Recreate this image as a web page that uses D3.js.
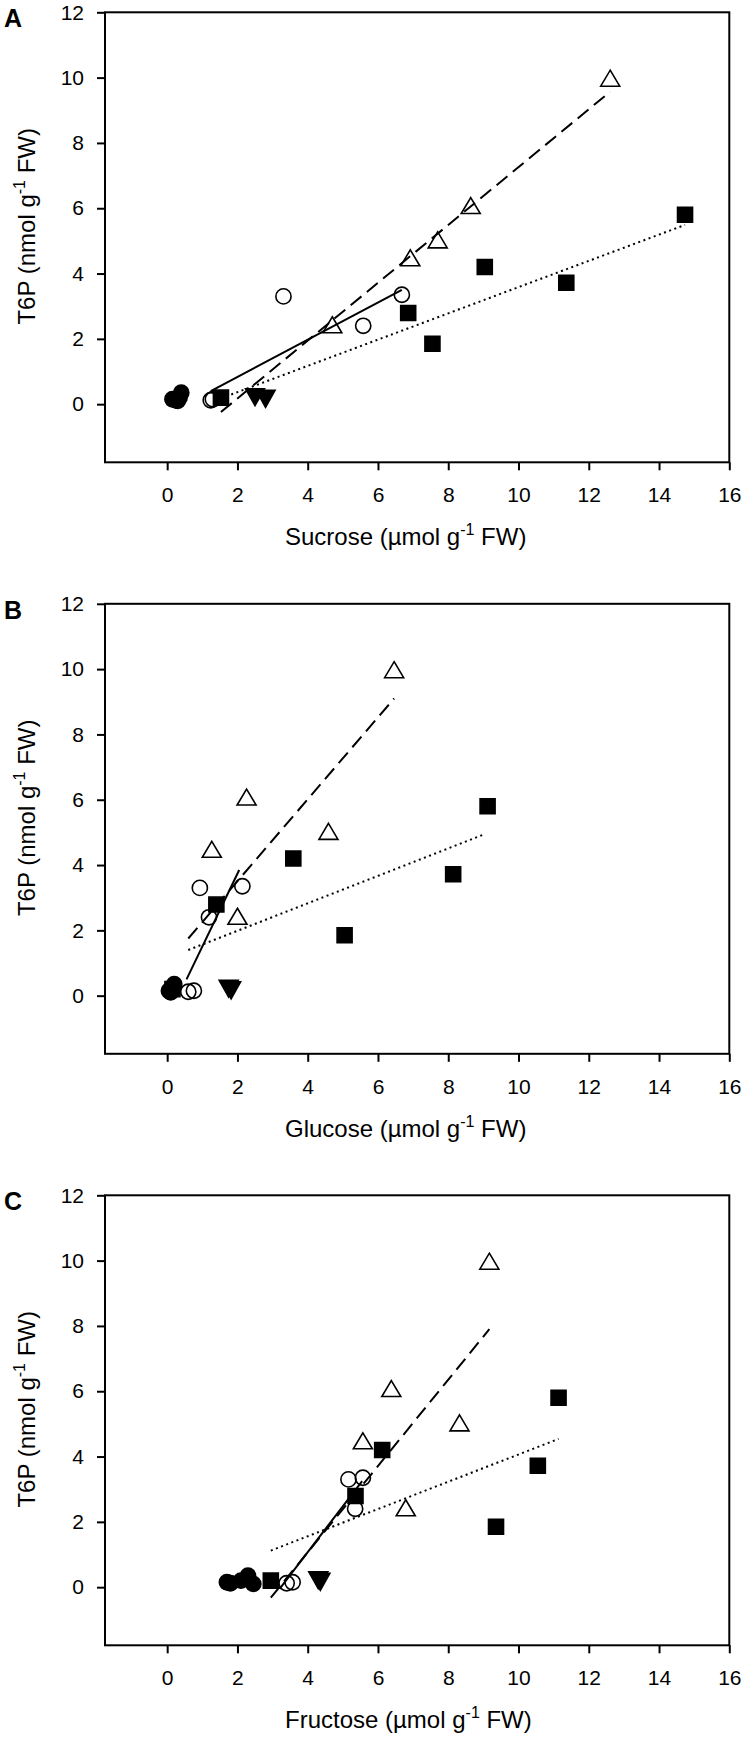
<!DOCTYPE html>
<html>
<head>
<meta charset="utf-8">
<script src="https://cdn.jsdelivr.net/npm/d3@7"></script>
<style>
  html, body { margin: 0; padding: 0; background: #fff; }
  svg { display: block; }
  text { font-family: Arial, "Liberation Sans", sans-serif; fill: #000; }
</style>
</head>
<body>
<svg id="chart" width="747" height="1749"></svg>
<script>
// ---------------- data ----------------
const panelLetters = ["A", "B", "C"];
const xTitles = ["Sucrose", "Glucose", "Fructose"];
const xTicks = [0, 2, 4, 6, 8, 10, 12, 14, 16];
const yTicks = [0, 2, 4, 6, 8, 10, 12];

// filled circles
const filledCircleT6P = [0.15, 0.12, 0.2, 0.35, 0.1];
const filledCircleSuc = [0.15, 0.25, 0.35, 0.4, 0.3];
const filledCircleGlc = [0.05, 0.1, 0.15, 0.2, 0.1];
const filledCircleFru = [1.7, 1.8, 2.1, 2.3, 2.45];

// open circles
const openCircleT6P = [0.12, 0.15, 2.4, 3.3, 3.35];
const openCircleSuc = [1.24, 1.3, 5.58, 3.31, 6.68];
const openCircleGlc = [0.6, 0.76, 1.19, 0.93, 2.14];
const openCircleFru = [3.4, 3.57, 5.35, 5.16, 5.57];

// open triangles
const openTriT6P = [2.35, 4.4, 4.95, 6.0, 9.9];
const openTriSuc = [4.7, 6.92, 7.7, 8.64, 12.61];
const openTriGlc = [2.0, 1.27, 4.59, 2.26, 6.46];
const openTriFru = [6.79, 5.57, 8.32, 6.38, 9.17];

// filled squares
const squareT6P = [0.2, 2.79, 1.85, 4.2, 3.72, 5.8];
const squareSuc = [1.53, 6.86, 7.55, 9.04, 11.36, 14.74];
const squareGlc = [0.15, 1.4, 5.05, 3.59, 8.14, 9.12];
const squareFru = [2.95, 5.36, 9.36, 6.12, 10.55, 11.14];

// filled down triangles
const downTriT6P = [0.3, 0.25];
const downTriSuc = [2.5, 2.8];
const downTriGlc = [1.75, 1.82];
const downTriFru = [4.3, 4.36];

// regression lines (start / end in data units) per panel
const fitSolid = [[[1.24, 0.4], [6.68, 3.5]], [[0.55, 0.5], [2.05, 3.85]], [[3.2, -0.05], [5.55, 3.25]]];
const fitDashed = [[[1.53, -0.24], [12.61, 9.57]], [[0.6, 1.75], [6.46, 9.1]], [[2.95, -0.32], [9.17, 7.9]]];
const fitDotted = [[[1.53, 0.18], [14.74, 5.49]], [[0.6, 1.4], [9.05, 4.95]], [[2.95, 1.12], [11.14, 4.54]]];

const sugarX = {
  filledCircle: [filledCircleSuc, filledCircleGlc, filledCircleFru],
  openCircle: [openCircleSuc, openCircleGlc, openCircleFru],
  openTri: [openTriSuc, openTriGlc, openTriFru],
  square: [squareSuc, squareGlc, squareFru],
  downTri: [downTriSuc, downTriGlc, downTriFru]
};
const t6pY = {
  filledCircle: filledCircleT6P,
  openCircle: openCircleT6P,
  openTri: openTriT6P,
  square: squareT6P,
  downTri: downTriT6P
};

// ---------------- layout ----------------
const svg = d3.select("#chart");
const left = 105, right = 729.3, plotH = 450;
const panelTops = [12.3, 603.8, 1195.3];

const x = d3.scaleLinear().domain([-1.77, 16]).range([left, right]);

function markerPath(kind) {
  const p = d3.path();
  if (kind === "openTri") {
    const w = 9.5, h = 16;
    p.moveTo(0, -h * 2 / 3); p.lineTo(w, h / 3); p.lineTo(-w, h / 3); p.closePath();
  } else if (kind === "downTri") {
    const w = 9.5, h = 17;
    p.moveTo(-w, -h / 3); p.lineTo(w, -h / 3); p.lineTo(0, h * 2 / 3); p.closePath();
  } else if (kind === "square") {
    const s = 7.5;
    p.rect(-s, -s, 2 * s, 2 * s);
  } else {
    p.arc(0, 0, 7.6, 0, 2 * Math.PI);
  }
  return p.toString();
}

const markerStyle = {
  filledCircle: { fill: "#000", stroke: "#000" },
  openCircle: { fill: "none", stroke: "#000" },
  openTri: { fill: "none", stroke: "#000" },
  square: { fill: "#000", stroke: "#000" },
  downTri: { fill: "#000", stroke: "#000" }
};

panelLetters.forEach((letter, i) => {
  const top = panelTops[i];
  const y = d3.scaleLinear().domain([-1.78, 12]).range([top + plotH, top]);
  const g = svg.append("g");

  // frame
  g.append("rect")
    .attr("x", left).attr("y", top)
    .attr("width", right - left).attr("height", plotH)
    .attr("fill", "none").attr("stroke", "#000").attr("stroke-width", 2);

  // axes
  const yAxis = g.append("g").attr("transform", `translate(${left},0)`)
    .call(d3.axisLeft(y).tickValues(yTicks).tickSize(8).tickPadding(13).tickFormat(d3.format("d")));
  const xAxis = g.append("g").attr("transform", `translate(0,${top + plotH})`)
    .call(d3.axisBottom(x).tickValues(xTicks).tickSize(8).tickPadding(17).tickFormat(d3.format("d")));
  [yAxis, xAxis].forEach(a => {
    a.select(".domain").remove();
    a.selectAll(".tick line").attr("stroke", "#000").attr("stroke-width", 2);
    a.selectAll(".tick text").attr("font-size", 21).attr("fill", "#000")
      .attr("font-family", "Arial, 'Liberation Sans', sans-serif");
  });

  // panel letter
  g.append("text").attr("x", 4).attr("y", top + 15)
    .attr("font-size", 25).attr("font-weight", "bold").text(letter);

  // y title
  const yt = g.append("text")
    .attr("transform", `translate(35,${top + 214}) rotate(-90)`)
    .attr("text-anchor", "middle").attr("font-size", 24);
  yt.append("tspan").text("T6P (nmol g");
  yt.append("tspan").attr("font-size", 16).attr("dy", -10).text("-1");
  yt.append("tspan").attr("dy", 10).text(" FW)");

  // x title
  const xt = g.append("text")
    .attr("x", 285).attr("y", top + plotH + 83)
    .attr("text-anchor", "start").attr("font-size", 24);
  xt.append("tspan").text(xTitles[i] + " (\u00b5mol g");
  xt.append("tspan").attr("font-size", 16).attr("dy", -10).text("-1");
  xt.append("tspan").attr("dy", 10).text(" FW)");

  // regression lines
  const line = d3.line().x(d => x(d[0])).y(d => y(d[1]));
  g.append("path").attr("d", line(fitSolid[i])).attr("fill", "none")
    .attr("stroke", "#000").attr("stroke-width", 2);
  g.append("path").attr("d", line(fitDashed[i])).attr("fill", "none")
    .attr("stroke", "#000").attr("stroke-width", 2).attr("stroke-dasharray", "14,7");
  g.append("path").attr("d", line(fitDotted[i])).attr("fill", "none")
    .attr("stroke", "#000").attr("stroke-width", 2).attr("stroke-dasharray", "2,3.5");

  // markers
  ["filledCircle", "square", "downTri", "openCircle", "openTri"].forEach(kind => {
    const xs = sugarX[kind][i];
    const ys = t6pY[kind];
    const pts = xs.map((v, k) => [v, ys[k]]);
    g.append("g").selectAll("path").data(pts).join("path")
      .attr("transform", d => `translate(${x(d[0])},${y(d[1])})`)
      .attr("d", markerPath(kind))
      .attr("fill", markerStyle[kind].fill)
      .attr("stroke", markerStyle[kind].stroke)
      .attr("stroke-width", 1.6);
  });
});
</script>
</body>
</html>
